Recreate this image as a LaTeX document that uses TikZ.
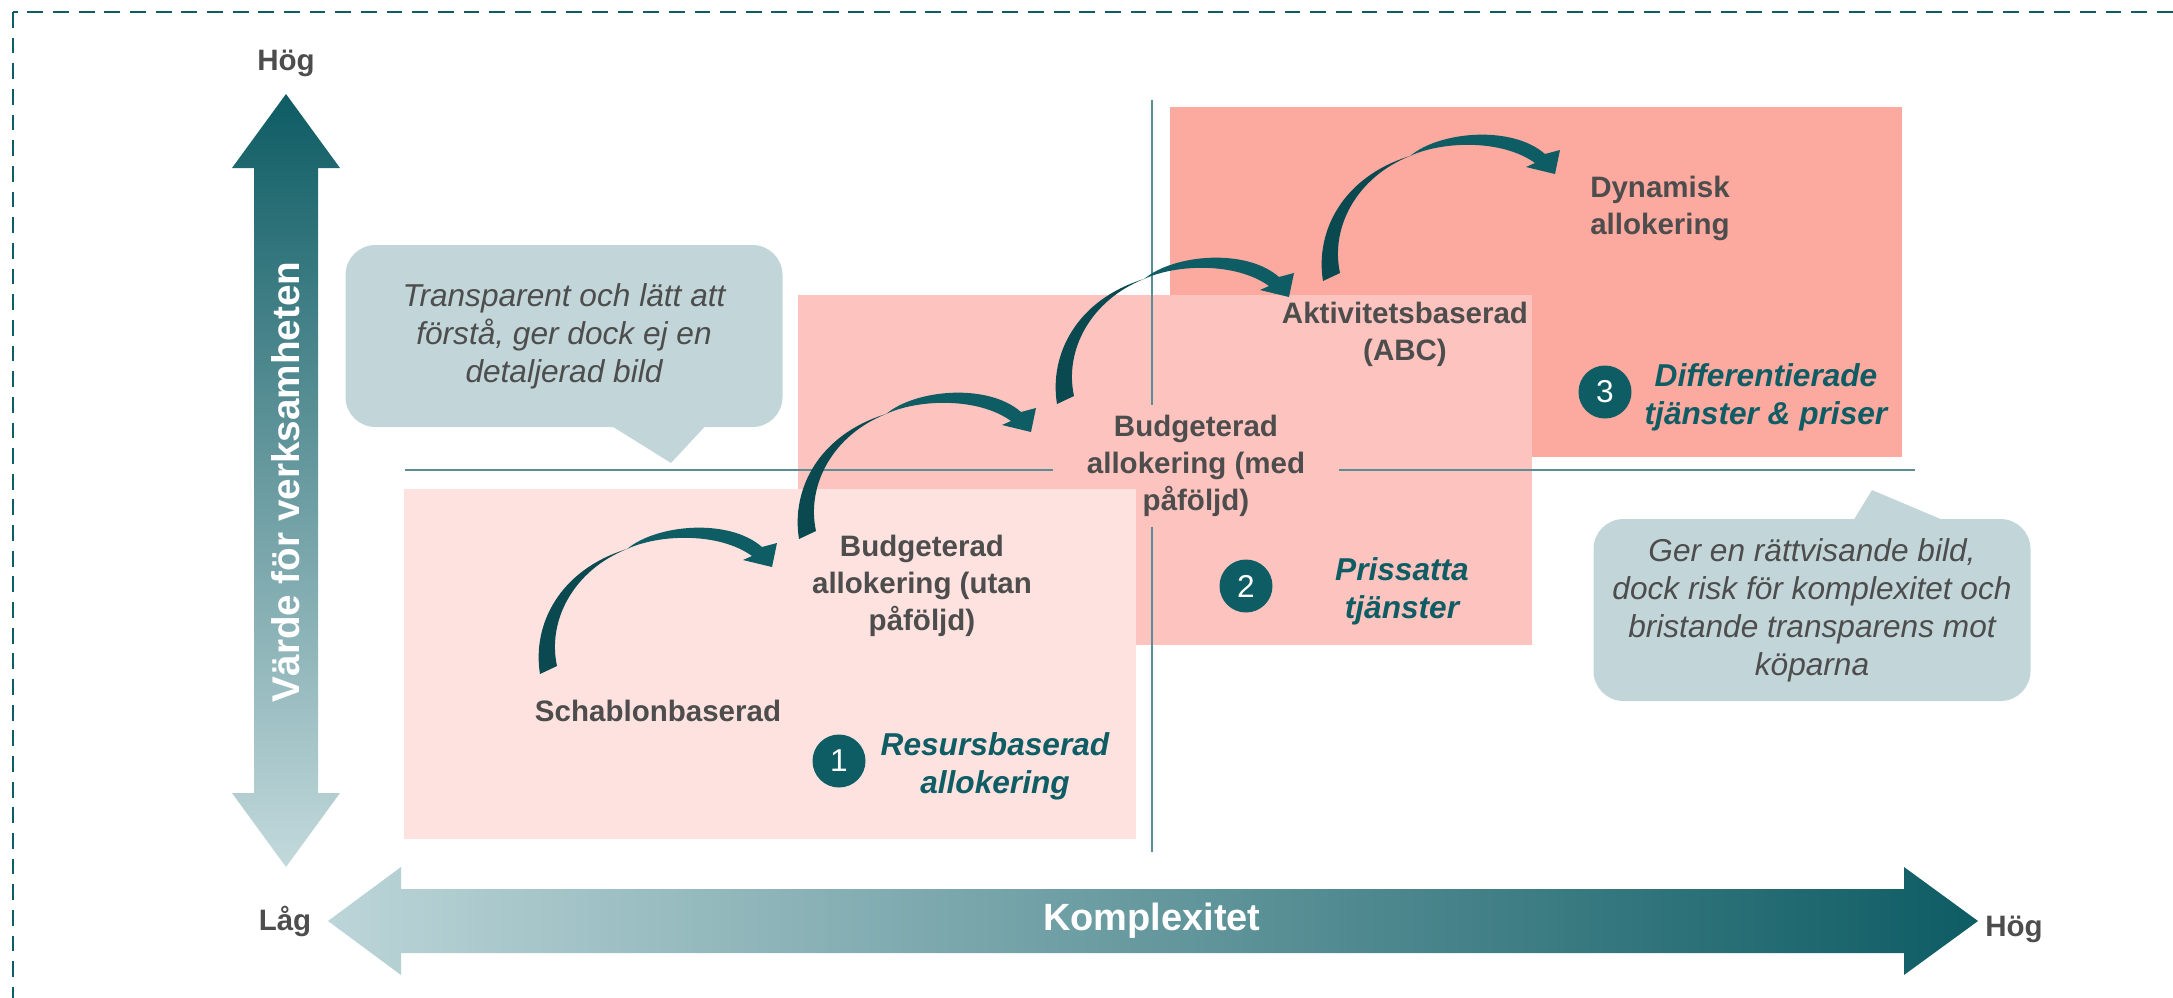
\documentclass[tikz,border=0pt]{standalone}
\usepackage{fontspec}
\setmainfont{Liberation Sans}
\usetikzlibrary{positioning}
\definecolor{petrol}{HTML}{0E5C64}
\definecolor{petroldk}{HTML}{0A4950}
\definecolor{mist}{HTML}{BCD5D8}
\definecolor{rose}{HTML}{FEE2DF}
\definecolor{blush}{HTML}{FDC4BF}
\definecolor{salmon}{HTML}{FCA99F}
\definecolor{note}{HTML}{C2D6D9}
\definecolor{ink}{HTML}{4D4D4D}
\definecolor{rule}{HTML}{5A8E92}
\tikzset{
  frame/.style={draw=petrol,line width=0.8pt,dash pattern=on 4.5pt off 2.8pt},
  midline/.style={draw=rule,line width=0.6pt},
  lbl/.style={text=ink,font=\fontsize{8.4}{10.5}\selectfont\bfseries,align=center,inner sep=0pt},
  axlbl/.style={lbl,font=\fontsize{8.4}{10}\selectfont\bfseries},
  stage/.style={text=petrol,font=\fontsize{9}{10.8}\selectfont\bfseries\itshape,align=center,inner sep=0pt},
  num/.style={circle,fill=petrol,text=white,minimum size=5.3mm,inner sep=0pt,
    font=\fontsize{9}{9}\selectfont},
  bubble/.style={fill=note,rounded corners=3mm,text=ink,align=center,
    font=\fontsize{9}{10.8}\selectfont\itshape,minimum width=43.7mm,minimum height=18.2mm},
  hop/.pic={
    \fill[petroldk] (-9,4) .. controls (-17,-45) and (10,-100) .. (78,-121)
      .. controls (25,-100) and (-2,-50) .. (8,-4) -- cycle;
    \fill[petrol] (78,-121) .. controls (108,-146) and (180,-152) .. (213,-123)
      -- (228,-127) -- (223,-103) -- (194,-110) -- (203,-114)
      .. controls (170,-138) and (110,-136) .. (78,-121) -- cycle;
  }
}
\begin{document}
\begin{tikzpicture}[x=0.1mm,y=-0.1mm]
  \useasboundingbox (0,0) rectangle (2173,997);
  \clip (0,0) rectangle (2173,997);
  \draw[frame] (13,12) rectangle (2220,1040);
  % the three stages
  \fill[salmon] (1170,107) rectangle (1902,457);
  \fill[blush] (798,295) rectangle (1532,645);
  \fill[rose] (404,489) rectangle (1136,839);
  % axes
  \shade[top color=petrol,bottom color=mist!90!white]
    (286,94) -- (340,168) -- (318,168) -- (318,793) -- (340,793) -- (286,867)
    -- (232,793) -- (254,793) -- (254,168) -- (232,168) -- cycle;
  \shade[left color=mist,right color=petrol]
    (328,921) -- (401,867) -- (401,889) -- (1904,889) -- (1904,867) -- (1978,921)
    -- (1904,975) -- (1904,953) -- (401,953) -- (401,975) -- cycle;
  \node[rotate=90,text=white,font=\fontsize{11}{11}\selectfont\bfseries] (vy) at (286,482) {Värde för verksamheten};
  \node[text=white,font=\fontsize{10.8}{11}\selectfont\bfseries] (vx) at (1152,921) {Komplexitet};
  \node[axlbl] (yhi) at (286,63) {Hög};
  \node[axlbl] (ylo) at (285,921) {Låg};
  \node[axlbl] (xhi) at (2014,929) {Hög};
  % methods
  \node[lbl] (m1) at (658,711) {Schablonbaserad};
  \node[lbl] (m2) at (922,586) {Budgeterad\\allokering (utan\\påföljd)};
  \node[lbl,minimum width=28.5mm,minimum height=12mm] (m3) at (1196,466) {Budgeterad\\allokering (med\\påföljd)};
  \node[lbl] (m4) at (1405,334) {Aktivitetsbaserad\\(ABC)};
  \node[lbl] (m5) at (1660,208) {Dynamisk\\allokering};
  \coordinate (hl) at (405,470);
  \coordinate (hr) at (1915,470);
  \coordinate (vt) at (1152,100);
  \coordinate (vb) at (1152,852);
  \draw[midline] (hl) -- (hl -| m3.west);
  \draw[midline] (hr -| m3.east) -- (hr);
  \draw[midline] (vt) -- (vt |- m3.north);
  \draw[midline] (vb |- m3.south) -- (vb);
  \foreach \p in {(549,670),(808,535),(1066,400),(1332,277)} \pic at \p {hop};
  % stage labels
  \node[num] (c1) at (839,761) {1};
  \node[stage] (s1) at (995,766) {Resursbaserad\\allokering};
  \node[num] (c2) at (1246,586) {2};
  \node[stage] (s2) at (1402,591) {Prissatta\\tjänster};
  \node[num] (c3) at (1605,392) {3};
  \node[stage] (s3) at (1766,397) {Differentierade\\tjänster \& priser};
  % comments
  \node[bubble] (b1) at (564,336) {Transparent och lätt att\\förstå, ger dock ej en\\detaljerad bild};
  \fill[note] (602,420) -- (671,463) -- (711,420) -- cycle;
  \node[bubble] (b2) at (1812,610) {Ger en rättvisande bild,\\dock risk för komplexitet och\\bristande transparens mot\\köparna};
  \fill[note] (1850,526) -- (1872,490) -- (1957,526) -- cycle;
\end{tikzpicture}
\end{document}
